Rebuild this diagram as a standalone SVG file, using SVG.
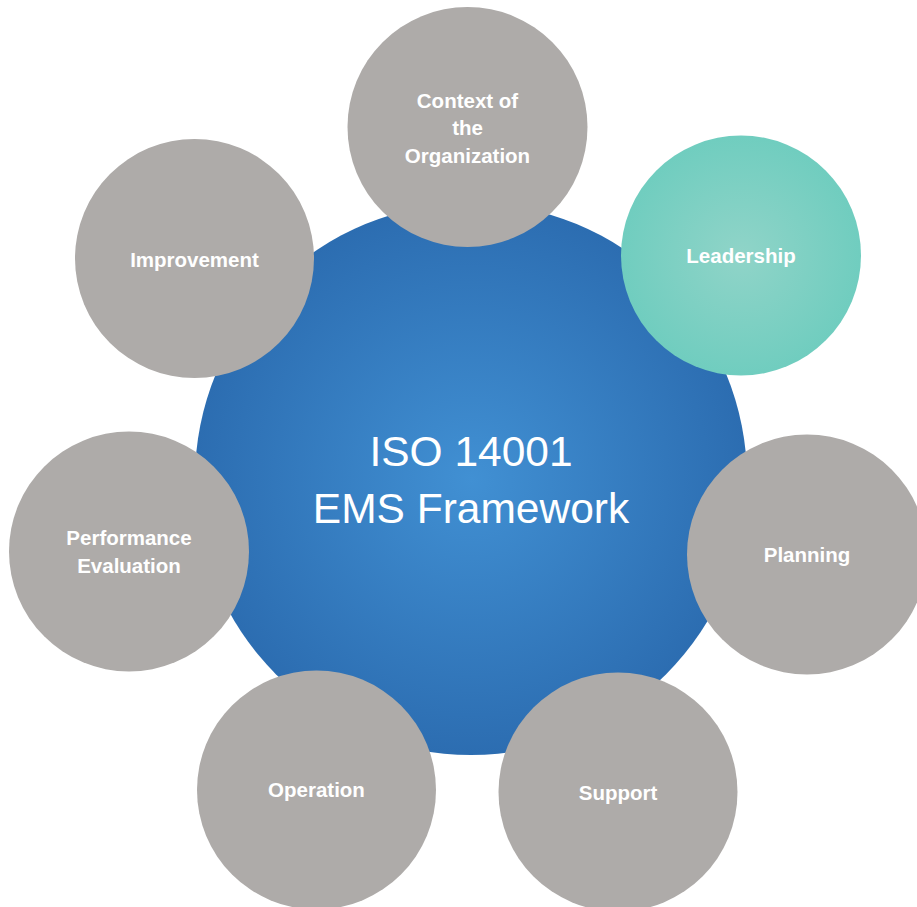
<svg xmlns="http://www.w3.org/2000/svg" width="917" height="907" viewBox="0 0 917 907">
<style>
.grey{fill:#aeaba9}
.lbl{font-family:"Liberation Sans",Arial,sans-serif;font-weight:bold;font-size:20.5px;fill:#ffffff;text-anchor:middle}
.main{font-family:"Liberation Sans",Arial,sans-serif;font-size:42.5px;fill:#ffffff;text-anchor:middle}
</style>
<defs>
<radialGradient id="blueGrad" cx="50%" cy="50%" r="50%">
<stop offset="0" stop-color="#4190d3"/>
<stop offset="1" stop-color="#2c6db1"/>
</radialGradient>
<radialGradient id="tealGrad" cx="50%" cy="50%" r="50%">
<stop offset="0" stop-color="#90d4c8"/>
<stop offset="1" stop-color="#70cdbf"/>
</radialGradient>
</defs>
<rect width="917" height="907" fill="#ffffff"/>
<g id="connectors"></g>
<g id="center">
<circle cx="471" cy="479" r="276" fill="url(#blueGrad)"/>
<text class="main" x="471" y="466">ISO 14001</text>
<text class="main" x="471" y="523">EMS Framework</text>
</g>
<g id="context">
<circle class="grey" cx="467.5" cy="127" r="120"/>
<text class="lbl" x="467.5" y="107.5">Context of</text>
<text class="lbl" x="467.5" y="135">the</text>
<text class="lbl" x="467.5" y="163">Organization</text>
</g>
<g id="leadership">
<circle cx="741" cy="255.5" r="120" fill="url(#tealGrad)"/>
<text class="lbl" x="741" y="263">Leadership</text>
</g>
<g id="planning">
<circle class="grey" cx="807" cy="554.5" r="120"/>
<text class="lbl" x="807" y="562">Planning</text>
</g>
<g id="support">
<circle class="grey" cx="618" cy="792" r="119.5"/>
<text class="lbl" x="618" y="799.5">Support</text>
</g>
<g id="operation">
<circle class="grey" cx="316.5" cy="790" r="119.5"/>
<text class="lbl" x="316.5" y="797">Operation</text>
</g>
<g id="performance">
<circle class="grey" cx="129" cy="551.5" r="120"/>
<text class="lbl" x="129" y="545">Performance</text>
<text class="lbl" x="129" y="572.5">Evaluation</text>
</g>
<g id="improvement">
<circle class="grey" cx="194.5" cy="258.5" r="119.5"/>
<text class="lbl" x="194.5" y="266.5">Improvement</text>
</g>
</svg>
